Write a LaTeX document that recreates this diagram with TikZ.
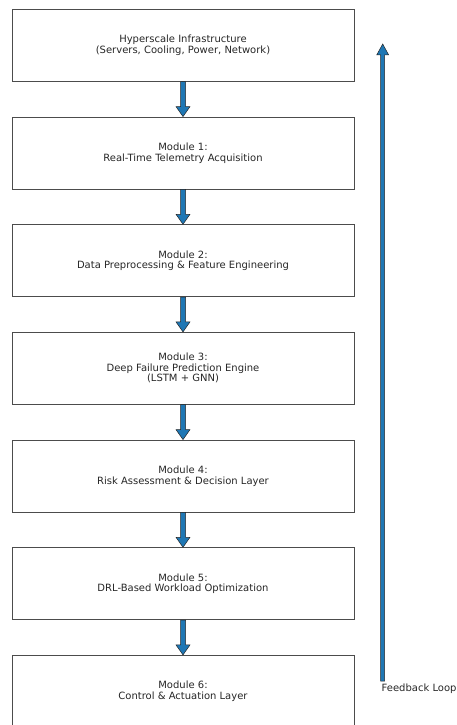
\documentclass[tikz,border=0pt]{standalone}
\usepackage{fontspec}
\setmainfont{DejaVu Sans}
\usetikzlibrary{calc}
\definecolor{arrowblue}{HTML}{1F77B4}
\newcommand\fatdown[2]{%
  \draw[fatarrow] ($(#1.south)+(-2.5,0)$) -- ($(#2.north)+(-2.5,-10)$) -- ($(#2.north)+(-7,-10)$) -- (#2.north) -- ($(#2.north)+(7,-10)$) -- ($(#2.north)+(2.5,-10)$) -- ($(#1.south)+(2.5,0)$) -- cycle;}
\begin{document}
\begin{tikzpicture}[x=1pt,y=-1pt,
  modbox/.style={draw=black!70, line width=0.8pt, minimum width=342pt, minimum height=72pt, inner sep=0pt, align=center, text=black!85, font=\fontsize{10}{10.5}\selectfont},
  fatarrow/.style={fill=arrowblue, draw=black!85, line width=0.5pt, line join=miter}]
\useasboundingbox (0,0) rectangle (456,725);
\clip (0,0) rectangle (456,725);
\node[modbox] (b0) at (183,45.3) {Hyperscale Infrastructure\\(Servers, Cooling, Power, Network)};
\node[modbox] (b1) at (183,153) {Module 1:\\Real-Time Telemetry Acquisition};
\node[modbox] (b2) at (183,260.7) {Module 2:\\Data Preprocessing \& Feature Engineering};
\node[modbox] (b3) at (183,368.3) {Module 3:\\Deep Failure Prediction Engine\\(LSTM + GNN)};
\node[modbox] (b4) at (183,476) {Module 4:\\Risk Assessment \& Decision Layer};
\node[modbox] (b5) at (183,583.7) {Module 5:\\DRL-Based Workload Optimization};
\node[modbox] (b6) at (183,691.3) {Module 6:\\Control \& Actuation Layer};
\fatdown{b0}{b1}
\fatdown{b1}{b2}
\fatdown{b2}{b3}
\fatdown{b3}{b4}
\fatdown{b4}{b5}
\fatdown{b5}{b6}
\coordinate (fbbot) at (382.7,681);
\coordinate (fbtop) at (382.7,44);
\draw[fatarrow] ($(fbbot)+(-2,0)$) -- ($(fbtop)+(-2,11)$) -- ($(fbtop)+(-6,11)$) -- (fbtop) -- ($(fbtop)+(6,11)$) -- ($(fbtop)+(2,11)$) -- ($(fbbot)+(2,0)$) -- cycle;
\node[anchor=west, inner sep=0pt, text=black!85, font=\fontsize{10}{10.5}\selectfont] (fbl) at (381.5,688.5) {Feedback Loop};
\end{tikzpicture}
\end{document}
